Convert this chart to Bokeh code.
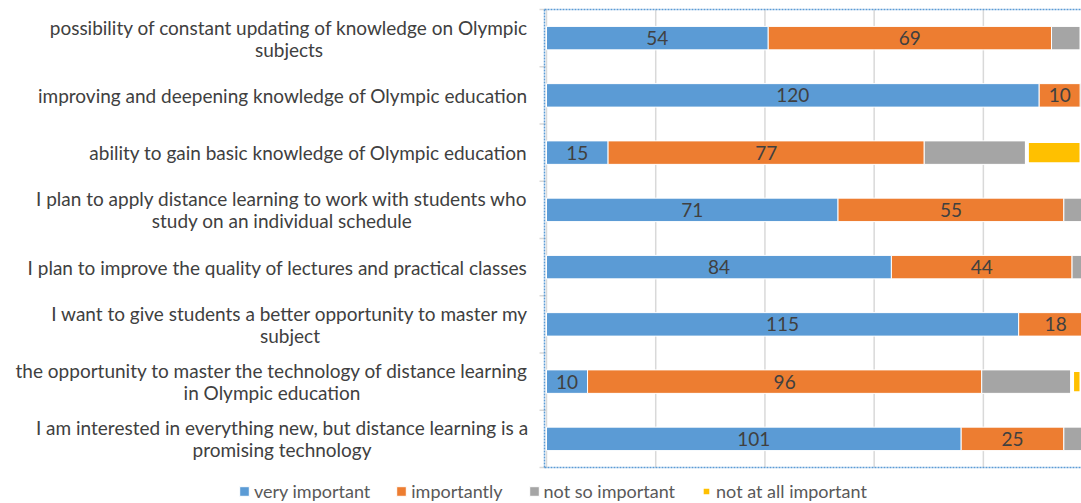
from bokeh.plotting import figure
from bokeh.models import Range1d, Legend, LegendItem, ColumnDataSource
from bokeh.core.properties import value
from bokeh.embed import file_html
from bokeh.resources import INLINE

categories = [
    "possibility of constant updating of knowledge on Olympic\nsubjects",
    "improving and deepening knowledge of Olympic education",
    "ability to gain basic knowledge of Olympic education",
    "I plan to apply distance learning to work with students who\nstudy on an individual schedule",
    "I plan to improve the quality of lectures and practical classes",
    "I want to give students a better opportunity to master my\nsubject",
    "the opportunity to master the technology of distance learning\nin Olympic education",
    "I am interested in everything new, but distance learning is a\npromising technology",
]
very_important = [54, 120, 15, 71, 84, 115, 10, 101]
importantly = [69, 10, 77, 55, 44, 18, 96, 25]
not_so_important = [9, 3, 25, 7, 5, 0, 22, 7]
not_at_all_important = [1, 0, 16, 0, 0, 0, 5, 0]
series_names = ["very important", "importantly", "not so important", "not at all important"]
series_colors = ["#5B9BD5", "#ED7D31", "#A5A5A5", "#FFC000"]
respondents = 133

# ---- layout (pixels) ----
W, H = 1081, 503
AXIS_PX = 546            # left edge of the plot area
TOP_PX, BOTTOM_PX = 9, 467
LABEL_RIGHT_PX = 527     # right edge of category labels
label_block_px = [477, 0, 0, 491, 0, 475, 511, 491]   # width of wrapped label blocks
LINE_PX = 22

FONT = "Lato"
n = len(categories)
ypos = [n - i - 0.5 for i in range(n)]

X_END = 130.3
X_START = -AXIS_PX * X_END / (W - AXIS_PX)
PPX = W / (X_END - X_START)
PPY = (BOTTOM_PX - TOP_PX) / n
Y_START = -(H - BOTTOM_PX) / PPY
Y_END = n + TOP_PX / PPY


def px(xpix):
    return X_START + xpix / PPX


p = figure(width=W, height=H, x_range=Range1d(X_START, X_END), y_range=Range1d(Y_START, Y_END),
           output_backend="svg", toolbar_location=None,
           min_border_left=0, min_border_top=0, min_border_right=0, min_border_bottom=0)
p.outline_line_color = None
p.xaxis.visible = False
p.yaxis.visible = False
p.xgrid.visible = False
p.ygrid.visible = False

# vertical gridlines at every fifth of the respondents
gx = [respondents * k / 5 for k in range(1, 6)]
p.segment(x0=gx, x1=gx, y0=[0] * len(gx), y1=[n] * len(gx), line_color="#D9D9D9", line_width=1.5)
# category axis line and boundary ticks
p.segment(x0=[0], x1=[0], y0=[0], y1=[n], line_color="#D9D9D9", line_width=1.5)
p.segment(x0=[px(AXIS_PX - 7)] * (n + 1), x1=[0] * (n + 1), y0=list(range(n + 1)),
          y1=list(range(n + 1)), line_color="#D9D9D9", line_width=1.5)

# category labels
single = dict(x=[], y=[], text=[])
wrapped = dict(x=[], y=[], text=[])
for i, cat in enumerate(categories):
    lines = cat.split("\n")
    if len(lines) == 1:
        single["x"].append(px(LABEL_RIGHT_PX))
        single["y"].append(ypos[i])
        single["text"].append(lines[0])
    else:
        cx = px(LABEL_RIGHT_PX - label_block_px[i] / 2)
        for j, ln in enumerate(lines):
            wrapped["x"].append(cx)
            wrapped["y"].append(ypos[i] + (LINE_PX / 2 - LINE_PX * j) / PPY)
            wrapped["text"].append(ln)
lbl_style = dict(text_font=value(FONT), text_font_size="19px", text_color="#404040",
                 text_baseline="middle")
p.text(x="x", y="y", text="text", source=ColumnDataSource(single), text_align="right", **lbl_style)
p.text(x="x", y="y", text="text", source=ColumnDataSource(wrapped), text_align="center", **lbl_style)

series = [very_important, importantly, not_so_important, not_at_all_important]
left = [0] * n
renderers = []
for k, vals in enumerate(series):
    rows = [i for i in range(n) if vals[i] > 0]
    lefts = [left[i] for i in rows]
    rights = [left[i] + vals[i] for i in rows]
    src = ColumnDataSource(dict(
        y=[ypos[i] for i in rows], left=lefts, right=rights,
        mid=[(a + b) / 2 for a, b in zip(lefts, rights)],
        label=[str(vals[i]) for i in rows]))
    lw = 4 if k == 3 else 1
    r = p.hbar(y="y", left="left", right="right", height=0.41, source=src,
               fill_color=series_colors[k], line_color="white", line_width=lw)
    renderers.append(r)
    if k < 2:
        p.text(x="mid", y="y", text="label", source=src, text_align="center",
               text_baseline="middle", text_font=value(FONT), text_font_size="19px",
               text_color="#404040")
    left = [left[i] + vals[i] for i in range(n)]

# dashed selection frame of the plot area
p.segment(x0=[px(AXIS_PX - 2), px(AXIS_PX - 2), px(AXIS_PX - 2)],
          x1=[X_END, X_END, px(AXIS_PX - 2)],
          y0=[n, 0, 0], y1=[n, 0, n],
          line_color="#5B9BD5", line_dash="2 1", line_width=1.5)

legend = Legend(items=[LegendItem(label=nm, renderers=[r]) for nm, r in zip(series_names, renderers)],
                orientation="horizontal", location=(238, 1),
                glyph_width=12, glyph_height=12, label_standoff=4, spacing=25,
                padding=0, margin=0, border_line_color=None, background_fill_alpha=0,
                label_text_font=FONT, label_text_font_size="18px", label_text_color="#595959")
p.add_layout(legend, "center")

open("out.html", "w").write(file_html(p, INLINE))
